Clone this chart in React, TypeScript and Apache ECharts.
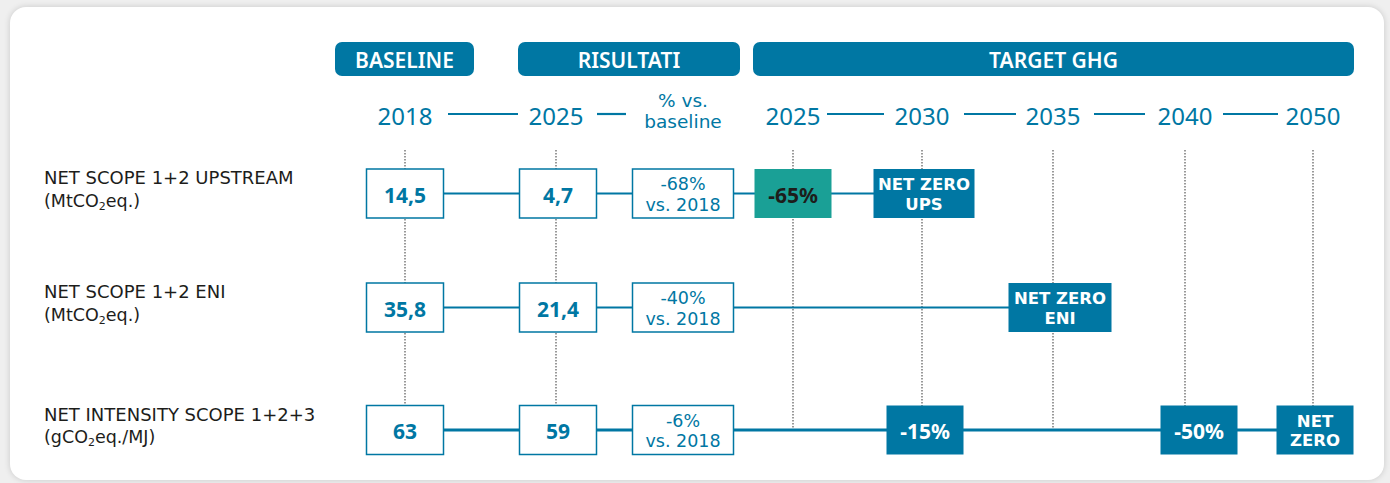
import React, { useEffect, useRef } from "react";
import * as echarts from "echarts";

// ---------- DATA ----------
const groups = ["BASELINE", "RISULTATI", "TARGET GHG"];
const columnLabels = ["2018", "2025", "% vs.\nbaseline", "2025", "2030", "2035", "2040", "2050"];
const targetYears = ["2025", "2030", "2035", "2040", "2050"];
const metrics = ["NET SCOPE 1+2 UPSTREAM", "NET SCOPE 1+2 ENI", "NET INTENSITY SCOPE 1+2+3"];
const units = ["(MtCO₂eq.)", "(MtCO₂eq.)", "(gCO₂eq./MJ)"];
const baseline2018 = [14.5, 35.8, 63];
const results2025 = [4.7, 21.4, 59];
const changeVs2018 = [-68, -40, -6];
const targetsUpstream: [string, string][] = [["2025", "-65%"], ["2030", "NET ZERO\nUPS"]];
const targetsEni: [string, string][] = [["2035", "NET ZERO\nENI"]];
const targetsIntensity: [string, string][] = [["2030", "-15%"], ["2040", "-50%"], ["2050", "NET\nZERO"]];

// ---------- LAYOUT ----------
const W = 1390;
const H = 483;
const FONT = "'Noto Sans', 'DejaVu Sans', sans-serif";
const FONT_WIDE = "'DejaVu Sans', 'Noto Sans', sans-serif";
const BLUE = "#0077a3";
const TEAL = "#1aa096";
const DARK = "#1d1d1b";
const COL_X = [405, 556, 683, 793, 922, 1053, 1185, 1313];
const ROW_Y = [193.5, 307.5, 430];
const HEADER_Y = 59;
const YEAR_Y = 115;
const GROUP_LEFT = [335, 518, 753];
const GROUP_RIGHT = [474, 740, 1354];
const YEAR_GAP_LEFT = [0, 38, 57, 0, 38, 37, 40, 35];
const YEAR_GAP_RIGHT = [43, 41, 0, 34, 42, 41, 38, 0];
const CONNECT_NEXT = [true, true, false, true, true, true, true, false];
const DOTTED_COLS = [0, 1, 3, 4, 5, 6, 7];
const DOT_TOP = 150;
const LABEL_X = 44;
const BOX_H = 49;
const BOX_W = 77;
const BOX_W_WIDE = 101;
const BOX_DX: Record<string, number> = { "0-1": 2, "1-1": 2, "2-1": 2, "0-4": 2, "1-5": 7, "2-4": 3, "2-6": 14, "2-7": 2 };
const ROW_LINE_W = [2, 2, 3];

const fmt = (n: number) => String(n).replace(".", ",");
const toRich = (s: string) =>
  s
    .split("₂")
    .map((part) => `{n|${part}}`)
    .join("{s|2}");

type Box = { x: number; y: number; text: string; kind: string; w: number; size: number; weight: number; lh: number; font: string };

function buildBoxes(): Box[] {
  const allTargets = [targetsUpstream, targetsEni, targetsIntensity];
  const out: Box[] = [];
  for (let r = 0; r < 3; r++) {
    const dx = (c: number) => BOX_DX[`${r}-${c}`] || 0;
    out.push({ x: COL_X[0] + dx(0), y: ROW_Y[r], text: fmt(baseline2018[r]), kind: "outline", w: BOX_W, size: 21, weight: 700, lh: 24, font: FONT });
    out.push({ x: COL_X[1] + dx(1), y: ROW_Y[r], text: fmt(results2025[r]), kind: "outline", w: BOX_W, size: 21, weight: 700, lh: 24, font: FONT });
    out.push({ x: COL_X[2] + dx(2), y: ROW_Y[r], text: `${changeVs2018[r]}%\nvs. 2018`, kind: "outline", w: BOX_W_WIDE, size: 17.5, weight: 400, lh: 20.5, font: FONT_WIDE });
    for (const [year, label] of allTargets[r]) {
      const c = 3 + targetYears.indexOf(year);
      const multi = label.includes("\n");
      const wide = label.split("\n")[0].length > 4;
      out.push({
        x: COL_X[c] + dx(c),
        y: ROW_Y[r],
        text: label,
        kind: year === "2025" ? "teal" : "solid",
        w: wide ? (label.endsWith("ENI") ? 103 : BOX_W_WIDE) : BOX_W,
        size: multi ? 16.5 : 21,
        weight: 700,
        lh: multi ? 19.5 : 24,
        font: multi ? FONT_WIDE : FONT,
      });
    }
  }
  return out;
}

function lastCol(r: number): number {
  const t = [targetsUpstream, targetsEni, targetsIntensity][r];
  return 3 + targetYears.indexOf(t[t.length - 1][0]);
}

export default function App() {
  const ref = useRef<HTMLDivElement>(null);

  useEffect(() => {
    if (!ref.current) return;
    const chart = echarts.init(ref.current, undefined, { renderer: "svg" });
    const boxes = buildBoxes();

    const rowLineSeries = [0, 1, 2].map((r) => ({
      type: "line",
      z: 2,
      silent: true,
      symbol: "none",
      lineStyle: { color: BLUE, width: ROW_LINE_W[r] },
      data: [
        [COL_X[0], ROW_Y[r]],
        [COL_X[lastCol(r)], ROW_Y[r]],
      ],
    }));

    const option: any = {
      animation: false,
      backgroundColor: "transparent",
      grid: { left: 0, right: 0, top: 0, bottom: 0 },
      xAxis: { type: "value", min: 0, max: W, show: false },
      yAxis: { type: "value", min: 0, max: H, inverse: true, show: false },
      series: [
        // dotted column guides
        {
          type: "custom",
          z: 1,
          silent: true,
          clip: false,
          data: DOTTED_COLS.map((c) => [COL_X[c], DOT_TOP, ROW_Y[2]]),
          renderItem: (_p: any, api: any) => {
            const a = api.coord([api.value(0), api.value(1)]);
            const b = api.coord([api.value(0), api.value(2)]);
            return {
              type: "line",
              shape: { x1: a[0], y1: a[1], x2: b[0], y2: b[1] },
              style: { stroke: "#6f6f6f", lineWidth: 1.4, lineDash: [1.4, 1.6] },
            };
          },
        },
        ...rowLineSeries,
        // boxes
        {
          type: "custom",
          z: 3,
          silent: true,
          clip: false,
          data: boxes.map((b, i) => [b.x, b.y, i]),
          renderItem: (_p: any, api: any) => {
            const b = boxes[api.value(2)];
            const [cx, cy] = api.coord([api.value(0), api.value(1)]);
            const fill = b.kind === "outline" ? "#ffffff" : b.kind === "teal" ? TEAL : BLUE;
            const txt = b.kind === "outline" ? BLUE : b.kind === "teal" ? DARK : "#ffffff";
            return {
              type: "group",
              children: [
                {
                  type: "rect",
                  shape: { x: cx - b.w / 2, y: cy - BOX_H / 2, width: b.w, height: BOX_H },
                  style: { fill, stroke: b.kind === "outline" ? BLUE : fill, lineWidth: b.kind === "outline" ? 1.5 : 0 },
                },
                {
                  type: "text",
                  x: cx,
                  y: cy + 1,
                  style: {
                    text: b.text,
                    fill: txt,
                    fontSize: b.size,
                    fontWeight: b.weight,
                    fontFamily: b.font,
                    lineHeight: b.lh,
                    align: "center",
                    verticalAlign: "middle",
                  },
                },
              ],
            };
          },
        },
        // header pills
        {
          type: "custom",
          z: 4,
          silent: true,
          clip: false,
          data: groups.map((_g, i) => [GROUP_LEFT[i], HEADER_Y, GROUP_RIGHT[i], i]),
          renderItem: (_p: any, api: any) => {
            const a = api.coord([api.value(0), api.value(1)]);
            const b = api.coord([api.value(2), api.value(1)]);
            const i = api.value(3);
            return {
              type: "group",
              children: [
                {
                  type: "rect",
                  shape: { x: a[0], y: a[1] - 17, width: b[0] - a[0], height: 34, r: 7 },
                  style: { fill: BLUE },
                },
                {
                  type: "text",
                  x: (a[0] + b[0]) / 2,
                  y: a[1] + 1,
                  style: {
                    text: groups[i],
                    fill: "#ffffff",
                    fontSize: 21,
                    fontWeight: 600,
                    fontFamily: FONT,
                    align: "center",
                    verticalAlign: "middle",
                  },
                },
              ],
            };
          },
        },
        // year / column labels with connectors
        {
          type: "custom",
          z: 4,
          silent: true,
          clip: false,
          data: columnLabels.map((_l, i) => [COL_X[i], YEAR_Y, i]),
          renderItem: (_p: any, api: any) => {
            const i = api.value(2);
            const [cx, cy] = api.coord([api.value(0), api.value(1)]);
            const label = columnLabels[i];
            const multi = label.includes("\n");
            const children: any[] = [
              {
                type: "text",
                x: cx,
                y: cy + (multi ? -4 : 0),
                style: {
                  text: label,
                  fill: BLUE,
                  fontSize: multi ? 18.5 : 24,
                  fontFamily: multi ? FONT_WIDE : FONT,
                  lineHeight: multi ? 21.5 : 32,
                  align: "center",
                  verticalAlign: "middle",
                },
              },
            ];
            if (CONNECT_NEXT[i]) {
              const n = api.coord([COL_X[i + 1], api.value(1)]);
              children.push({
                type: "line",
                shape: { x1: cx + YEAR_GAP_RIGHT[i], y1: cy - 1, x2: n[0] - YEAR_GAP_LEFT[i + 1], y2: cy - 1 },
                style: { stroke: BLUE, lineWidth: 2.2 },
              });
            }
            return { type: "group", children };
          },
        },
        // row labels
        {
          type: "custom",
          z: 4,
          silent: true,
          clip: false,
          data: metrics.map((_m, r) => [LABEL_X, ROW_Y[r], r]),
          renderItem: (_p: any, api: any) => {
            const r = api.value(2);
            const [x, y] = api.coord([api.value(0), api.value(1)]);
            return {
              type: "group",
              children: [
                {
                  type: "text",
                  x,
                  y: y - 16,
                  style: { text: metrics[r], fill: DARK, fontSize: 18, fontFamily: FONT_WIDE, align: "left", verticalAlign: "middle" },
                },
                {
                  type: "text",
                  x,
                  y: y + 7,
                  style: {
                    text: toRich(units[r]),
                    fill: DARK,
                    fontSize: 17.5,
                    fontFamily: FONT_WIDE,
                    align: "left",
                    verticalAlign: "middle",
                    rich: {
                      n: { fontSize: 17.5, fontFamily: FONT_WIDE, fill: DARK, lineHeight: 22, verticalAlign: "middle" },
                      s: { fontSize: 11, fontFamily: FONT_WIDE, fill: DARK, lineHeight: 22, verticalAlign: "bottom" },
                    },
                  },
                },
              ],
            };
          },
        },
      ],
    };

    chart.setOption(option);
    return () => chart.dispose();
  }, []);

  return (
    <div style={{ position: "absolute", left: 0, top: 0, width: W, height: H, overflow: "hidden", background: "#efefef" }}>
      <div
        style={{
          position: "absolute",
          left: 10,
          top: 7,
          width: 1374,
          height: 473,
          background: "#ffffff",
          borderRadius: 16,
          boxShadow: "0 0 6px rgba(0,0,0,0.16)",
        }}
      />
      <div ref={ref} style={{ position: "absolute", left: 0, top: 0, width: W, height: H }} />
    </div>
  );
}
